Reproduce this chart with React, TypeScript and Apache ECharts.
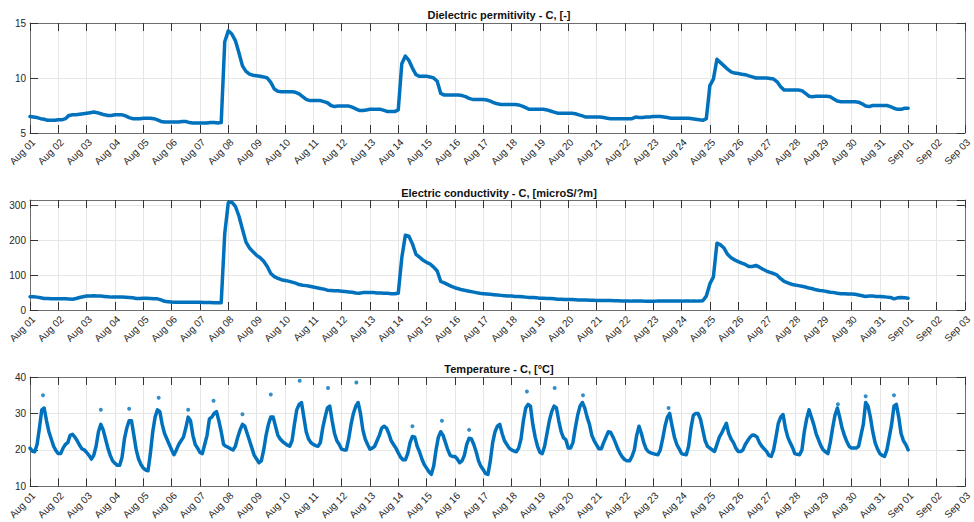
import React, { useEffect, useRef } from "react";
import * as echarts from "echarts";

// ---- Data ----
// Dielectric permittivity, 3-hour steps starting Aug 01 00:00 (8 values per day)
const permDays: number[][] = [
  [6.5, 6.45, 6.4, 6.3, 6.25, 6.15, 6.15, 6.15],
  [6.2, 6.2, 6.3, 6.6, 6.65, 6.65, 6.7, 6.75],
  [6.8, 6.85, 6.9, 6.85, 6.75, 6.65, 6.6, 6.6],
  [6.65, 6.65, 6.65, 6.55, 6.4, 6.3, 6.3, 6.3],
  [6.35, 6.35, 6.35, 6.3, 6.2, 6.05, 6.0, 6.0],
  [6.0, 6.0, 6.0, 6.05, 6.05, 5.95, 5.9, 5.9],
  [5.9, 5.9, 5.9, 5.95, 5.95, 5.9, 5.95, 13.3],
  [14.3, 14.0, 13.4, 12.3, 11.1, 10.6, 10.35, 10.25],
  [10.2, 10.15, 10.1, 10.0, 9.6, 9.0, 8.8, 8.75],
  [8.75, 8.75, 8.75, 8.7, 8.55, 8.3, 8.05, 7.95],
  [7.95, 7.95, 7.95, 7.85, 7.75, 7.5, 7.4, 7.45],
  [7.45, 7.45, 7.45, 7.35, 7.2, 7.05, 7.05, 7.1],
  [7.15, 7.15, 7.15, 7.15, 7.05, 6.95, 6.95, 6.95],
  [7.1, 11.3, 12.0, 11.6, 10.9, 10.3, 10.15, 10.15],
  [10.15, 10.1, 10.0, 9.7, 8.6, 8.45, 8.45, 8.45],
  [8.45, 8.45, 8.4, 8.3, 8.15, 8.05, 8.05, 8.05],
  [8.05, 8.0, 7.9, 7.75, 7.65, 7.6, 7.6, 7.6],
  [7.6, 7.6, 7.55, 7.45, 7.3, 7.15, 7.15, 7.15],
  [7.15, 7.15, 7.1, 7.0, 6.9, 6.8, 6.8, 6.8],
  [6.8, 6.8, 6.75, 6.65, 6.55, 6.45, 6.45, 6.45],
  [6.45, 6.45, 6.4, 6.35, 6.3, 6.3, 6.3, 6.3],
  [6.3, 6.3, 6.3, 6.45, 6.4, 6.4, 6.45, 6.45],
  [6.5, 6.5, 6.5, 6.45, 6.4, 6.35, 6.35, 6.35],
  [6.35, 6.35, 6.35, 6.3, 6.25, 6.2, 6.15, 6.3],
  [9.3, 9.9, 11.7, 11.4, 11.1, 10.8, 10.55, 10.45],
  [10.4, 10.35, 10.3, 10.2, 10.1, 10.0, 10.0, 10.0],
  [10.0, 9.95, 9.9, 9.65, 9.2, 8.9, 8.9, 8.9],
  [8.9, 8.9, 8.85, 8.6, 8.35, 8.3, 8.35, 8.35],
  [8.35, 8.35, 8.3, 8.1, 7.9, 7.85, 7.85, 7.85],
  [7.85, 7.85, 7.8, 7.65, 7.45, 7.4, 7.5, 7.5],
  [7.5, 7.5, 7.5, 7.4, 7.25, 7.15, 7.15, 7.25],
];
const permLast = 7.25;

// Electric conductivity, 3-hour steps
const condDays: number[][] = [
  [38, 38, 37, 35, 33, 33, 32, 32],
  [32, 32, 32, 31.5, 31, 33, 36, 38],
  [40, 40.5, 41, 40.5, 40, 39, 38, 37],
  [37, 37, 37, 36.5, 36, 35, 33, 33],
  [33.5, 33.5, 33, 32.5, 32, 29, 25, 24],
  [23, 22.5, 22.5, 22, 22, 22, 22, 22],
  [22, 21.5, 21.5, 21.5, 21, 21, 21, 220],
  [308, 310, 298, 270, 232, 195, 178, 167],
  [157, 150, 140, 125, 105, 96, 91, 87],
  [85, 83, 80, 77, 73, 71, 70, 68],
  [66, 64, 62, 60, 57, 56, 55, 55],
  [54, 53, 52, 51, 49, 48, 50, 50],
  [50, 50, 49, 49, 48, 48, 47, 47],
  [48, 150, 215, 212, 190, 160, 152, 143],
  [137, 132, 123, 112, 82, 78, 73, 68],
  [64, 61, 58, 56, 54, 52, 50, 48],
  [47, 46, 45, 44, 43, 42, 41, 40],
  [40, 39, 39, 38, 37, 36, 36, 35],
  [34, 34, 33, 33, 32, 31, 31, 30],
  [30, 30, 29.5, 29, 29, 28.5, 28, 28],
  [27.5, 27.5, 27, 27, 27, 26.5, 26.5, 26],
  [26, 26, 25.5, 25.5, 25.5, 25.5, 25, 25],
  [25, 25.5, 25.5, 25.5, 25.5, 25.5, 25.5, 25.5],
  [25.5, 26, 26, 25.5, 25.5, 26, 26.5, 40],
  [75, 95, 192, 187, 178, 160, 150, 144],
  [139, 135, 131, 125, 125, 128, 123, 117],
  [112, 108, 105, 100, 90, 82, 78, 74],
  [72, 70, 68, 66, 63, 61, 58, 56],
  [55, 53, 51, 50, 48, 47, 47, 46],
  [46, 45, 43, 41, 39, 40, 40, 39],
  [39, 38, 37, 36, 32, 35, 36, 35],
];
const condLast = 34;

// Temperature, 2-hour steps (12 values per day)
const tempDays: number[][] = [
  [20.5, 19.7, 19.5, 21.5, 26, 31, 31.5, 28, 25, 23, 21, 19.8],
  [19, 19, 20.5, 21.5, 22, 24, 24.3, 23.5, 22.5, 21.3, 20.3, 20],
  [19.3, 18.5, 17.5, 18.5, 21, 25, 27, 25.5, 23, 20.5, 18.5, 17],
  [16.3, 15.8, 15.8, 18, 23, 26, 28, 28, 24, 20, 17.5, 16],
  [15, 14.5, 14.3, 19, 25, 29, 31, 30.5, 27, 24.5, 23, 21.5],
  [20, 18.7, 20, 21.5, 22.5, 23.5, 26, 29, 28, 24, 21.5, 20.5],
  [19.3, 19, 21.5, 24, 28.5, 29, 30, 30.5, 28, 25, 21.5, 21],
  [20.7, 20.3, 20, 21, 23.5, 25.5, 27, 26.5, 24.5, 22.5, 20.5, 18.5],
  [17.5, 16.5, 17, 20, 24, 27, 29, 29, 26.5, 24, 23, 22.3],
  [21.8, 21.3, 21, 22.5, 27, 31, 32.5, 33, 29, 25, 23, 22],
  [21.5, 21.2, 21, 22, 26, 29, 31.5, 32, 28, 24.5, 22.5, 21.5],
  [20.2, 20, 20, 23, 27, 30, 32, 33, 30, 25.5, 23, 21.5],
  [20.2, 20.5, 21, 22.5, 24, 26, 26.5, 26, 24.5, 22.5, 21.5, 20.5],
  [19.2, 18, 17.3, 17.3, 19, 22, 23.7, 23.5, 21, 19.5, 17.5, 16],
  [15, 14, 13.3, 15.5, 20, 23.5, 25, 24, 22, 20, 18.5, 18.2],
  [18.2, 17.5, 16.5, 17, 18.5, 21.5, 23.2, 23, 21.5, 19.5, 17, 15.5],
  [14.6, 13.5, 13.3, 17, 22, 25, 26.5, 27, 24.5, 22.5, 21.5, 20.5],
  [20, 19.7, 19.5, 20.5, 23, 28, 31.5, 32.5, 32, 27, 23.5, 21],
  [19.3, 19, 21, 24.5, 28, 30.5, 32, 31.5, 28, 25, 23.3, 22.8],
  [20.5, 20.5, 22, 26, 29.5, 32, 33, 31.5, 29, 27, 24, 22.5],
  [21.4, 20.3, 20.3, 22, 23.5, 25, 24.8, 23.5, 22, 20.3, 19, 18],
  [17.3, 17, 17, 18.2, 20, 24, 26.5, 24.5, 22, 20.3, 19.5, 19.2],
  [19, 18.8, 18.7, 20, 23, 26.5, 29, 30, 26.5, 23.5, 21.5, 20.3],
  [19, 18.8, 18.7, 21, 26, 29.5, 30, 30, 28.5, 25.5, 22.5, 21],
  [20.5, 20, 19.6, 21.5, 23.5, 24.6, 26, 27.3, 24.5, 23, 22, 20.5],
  [19.6, 19.6, 20, 21.5, 22.5, 23.5, 24.1, 24, 23.5, 22, 21, 20.3],
  [19.6, 18.5, 18.2, 20, 23.5, 27.3, 29, 29.7, 26, 23.5, 22, 20.7],
  [19, 18.8, 18.7, 20, 25, 28.5, 31, 29, 27, 24.5, 22.8, 21.2],
  [20, 19.5, 19, 22, 26, 29.5, 31.5, 29, 26, 24, 22.3, 21],
  [20.5, 20.5, 20.5, 21, 24, 27, 33, 32, 29, 25, 22, 20.3],
  [19, 18.5, 18.2, 20, 23.5, 27, 32, 32.5, 29, 24.5, 22.5, 21.5],
];
const tempLast = 20;

// Isolated temperature readings above the daily peaks: [day index, hour, value]
const tempSpikes: number[][] = [
  [0, 11, 35], [2, 12, 31], [3, 12, 31.3], [4, 13, 34.3], [5, 14, 31],
  [6, 11.5, 33.5], [7, 12, 29.8], [8, 12, 35.2], [9, 12.5, 39], [10, 12.5, 37],
  [11, 12.5, 38.5], [13, 12, 26.5], [14, 13, 28], [15, 12, 25.5], [17, 13, 36],
  [18, 12.5, 37], [19, 12.5, 35], [22, 13, 31.5], [28, 12.5, 32.5], [29, 12, 34.7],
  [30, 12, 35],
];

const titles = [
  "Dielectric permitivity - C, [-]",
  "Electric conductivity - C, [microS/?m]",
  "Temperature - C, [°C]",
];
const yRanges = [
  { min: 5, max: 15, interval: 5 },
  { min: 0, max: 316, interval: 100 },
  { min: 10, max: 40, interval: 10 },
];

function toSeries(days: number[][], last: number, stepHours: number): number[][] {
  const flat = days.flat().concat([last]);
  return flat.map((v, i) => [(i * stepHours) / 24, v]);
}

function dayLabel(v: number): string {
  const d = Math.round(v);
  const pad = (n: number) => (n < 10 ? "0" + n : "" + n);
  return d < 31 ? "Aug " + pad(d + 1) : "Sep " + pad(d - 30);
}

const FONT = "Liberation Sans, Arial, Helvetica, sans-serif";
const BLUE = "#0072BD";
const AXIS = "#6e6e6e";
const TICK = "#333333";
const GRIDC = "#e6e6e6";

export default function App() {
  const ref = useRef<HTMLDivElement>(null);
  useEffect(() => {
    if (!ref.current) return;
    const chart = echarts.init(ref.current, undefined, { renderer: "svg" });
    const tops = [23, 200, 377];
    const grid = tops.map((t) => ({ left: 30, right: 6, top: t, height: 110 }));
    const xAxis: any[] = [];
    const yAxis: any[] = [];
    tops.forEach((_, i) => {
      xAxis.push({
        type: "value", gridIndex: i, min: 0, max: 33, interval: 1, position: "bottom",
        axisLine: { show: true, onZero: false, lineStyle: { color: AXIS, width: 1 } },
        axisTick: { show: true, inside: true, length: 8, lineStyle: { color: TICK } },
        axisLabel: {
          show: true, rotate: 45, fontSize: 10, color: "#262626", fontFamily: FONT,
          margin: 4, align: "right", verticalAlign: "top", formatter: dayLabel,
          showMinLabel: true, showMaxLabel: true,
        },
        splitLine: { show: true, lineStyle: { color: GRIDC, width: 1 } },
      });
      xAxis.push({
        type: "value", gridIndex: i, min: 0, max: 33, interval: 1, position: "top",
        axisLine: { show: true, onZero: false, lineStyle: { color: AXIS, width: 1 } },
        axisTick: { show: true, inside: true, length: 8, lineStyle: { color: TICK } },
        axisLabel: { show: false },
        splitLine: { show: false },
      });
      const r = yRanges[i];
      yAxis.push({
        type: "value", gridIndex: i, min: r.min, max: r.max, interval: r.interval, position: "left",
        axisLine: { show: true, onZero: false, lineStyle: { color: AXIS, width: 1 } },
        axisTick: { show: true, inside: true, length: 8, lineStyle: { color: TICK } },
        axisLabel: {
          show: true, fontSize: 10, color: "#262626", fontFamily: FONT, margin: 4,
          showMaxLabel: r.max % r.interval === 0,
        },
        splitLine: { show: true, lineStyle: { color: GRIDC, width: 1 } },
      });
      yAxis.push({
        type: "value", gridIndex: i, min: r.min, max: r.max, interval: r.interval, position: "right",
        axisLine: { show: true, onZero: false, lineStyle: { color: AXIS, width: 1 } },
        axisTick: { show: true, inside: true, length: 8, lineStyle: { color: TICK } },
        axisLabel: { show: false },
        splitLine: { show: false },
      });
    });
    const titleTops = [9, 187, 363];
    const lineCommon = {
      type: "line", showSymbol: false, symbol: "none",
      lineStyle: { color: BLUE, width: 3.5, cap: "round", join: "round" },
      itemStyle: { color: BLUE },
    };
    chart.setOption({
      animation: false,
      title: titles.map((t, i) => ({
        text: t, left: 499, top: titleTops[i], textAlign: "center", padding: 0,
        textStyle: { fontSize: 11, fontWeight: "bold", color: "#111", fontFamily: FONT },
      })),
      grid,
      xAxis,
      yAxis,
      series: [
        { ...lineCommon, xAxisIndex: 0, yAxisIndex: 0, data: toSeries(permDays, permLast, 3) },
        { ...lineCommon, xAxisIndex: 2, yAxisIndex: 2, data: toSeries(condDays, condLast, 3) },
        { ...lineCommon, xAxisIndex: 4, yAxisIndex: 4, data: toSeries(tempDays, tempLast, 2) },
        {
          type: "scatter", xAxisIndex: 4, yAxisIndex: 4, symbolSize: 4,
          itemStyle: { color: BLUE },
          data: tempSpikes.map((s) => [s[0] + s[1] / 24, s[2]]),
        },
      ],
    });
    return () => chart.dispose();
  }, []);
  return (
    <div
      ref={ref}
      style={{ position: "fixed", left: 0, top: 0, width: 974, height: 522, background: "#fff" }}
    />
  );
}
